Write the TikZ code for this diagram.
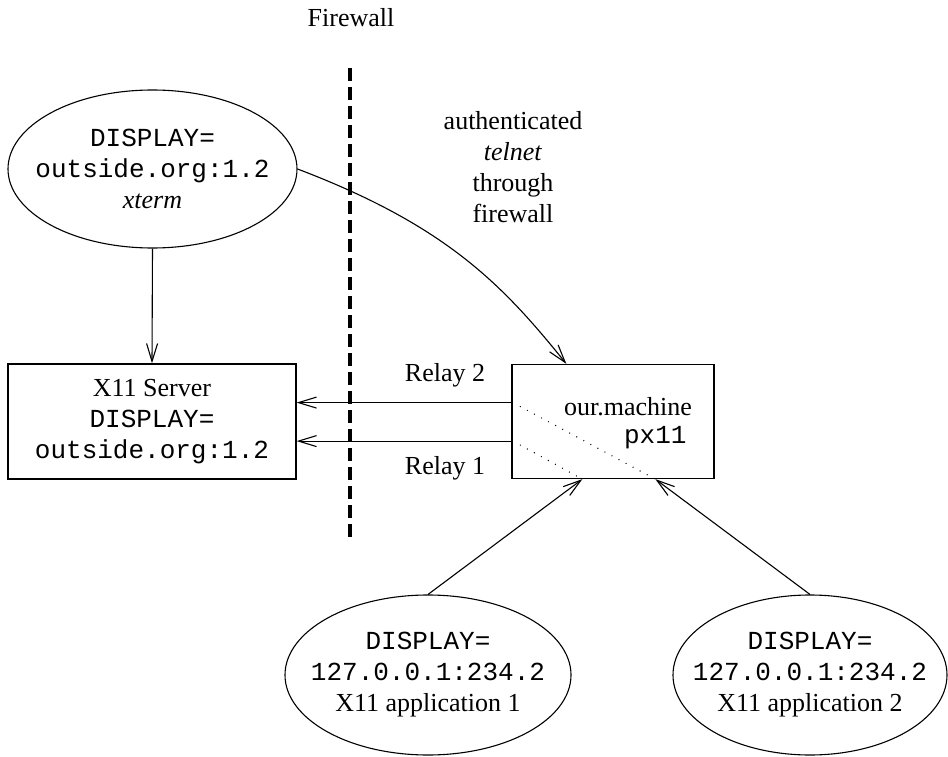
\documentclass[tikz,border=0pt]{standalone}
\usepackage{fontspec}
\setmainfont{Liberation Serif}
\setmonofont{Liberation Mono}
\usetikzlibrary{arrows.meta,shapes.geometric,calc}
\begin{document}
\begin{tikzpicture}[x=1pt,y=-1pt,
  every node/.style={font=\fontsize{26}{31}\selectfont, align=center},
  ell/.style={draw, ellipse, line width=1.1pt, inner xsep=-40pt, inner ysep=-20pt},
  boxn/.style={draw, rectangle, line width=1.3pt, inner sep=0pt},
  conn/.style={line width=1.1pt, -{Straight Barb[length=18pt,width=11pt,line width=1.1pt]}},
  fw/.style={line width=4pt, dash pattern=on 13pt off 6pt},
  dots/.style={line width=1.4pt, dash pattern=on 0pt off 8pt, line cap=round}]
\useasboundingbox (0,0) rectangle (948,757);

% firewall
\node (fwlabel) at (351,18) {Firewall};
\coordinate (fwtop) at (350,68);
\coordinate (fwbot) at (350,538);
\draw[fw] (fwtop) -- (fwbot);

% nodes
\node[ell, minimum width=289pt, minimum height=158pt] (xterm) at (152.5,169)
  {\texttt{DISPLAY=}\\\texttt{outside.org:1.2}\\\textit{xterm}};
\node[boxn, minimum width=288pt, minimum height=115pt] (x11) at (152,421.5)
  {X11 Server\\\texttt{DISPLAY=}\\\texttt{outside.org:1.2}};
\node[boxn, minimum width=202pt, minimum height=114pt] (mach) at (613,421.5) {};
\node (machtxt) at (628,407) {our.machine};
\node[anchor=east] (px) at (690,438) {\texttt{px11}};

\node (auth) at (513,167) {authenticated\\\textit{telnet}\\through\\firewall};
\node (relay2) at (445,375) {Relay 2};
\node (relay1) at (445,468) {Relay 1};

\node[ell, minimum width=286pt, minimum height=160pt] (app1) at (428,675)
  {\texttt{DISPLAY=}\\\texttt{127.0.0.1:234.2}\\X11 application 1};
\node[ell, minimum width=274pt, minimum height=160pt] (app2) at (810,675)
  {\texttt{DISPLAY=}\\\texttt{127.0.0.1:234.2}\\X11 application 2};

% coordinates on machine box
\coordinate (m2) at ($(mach.north west)!0.336!(mach.south west)$);
\coordinate (m1) at ($(mach.north west)!0.67!(mach.south west)$);
\coordinate (c1) at ($(mach.south west)+(71,0)$);
\coordinate (c2) at ($(mach.south west)+(144,0)$);
\coordinate (ctop) at ($(mach.north west)+(55,0)$);

% connectors
\draw[conn] (xterm.south) -- (x11.north);
\draw[conn] (xterm.east) .. controls +(150,57) and +(-63,-78) .. (ctop);
\draw[conn] (m2) -- (m2 -| x11.east);
\draw[conn] (m1) -- (m1 -| x11.east);
\draw[conn] (app1.north) -- (c1);
\draw[conn] (app2.north) -- (c2);
\draw[dots] ($(m2)+(9,4)$) -- (c2);
\draw[dots] ($(m1)+(9,4)$) -- (c1);
\end{tikzpicture}
\end{document}
